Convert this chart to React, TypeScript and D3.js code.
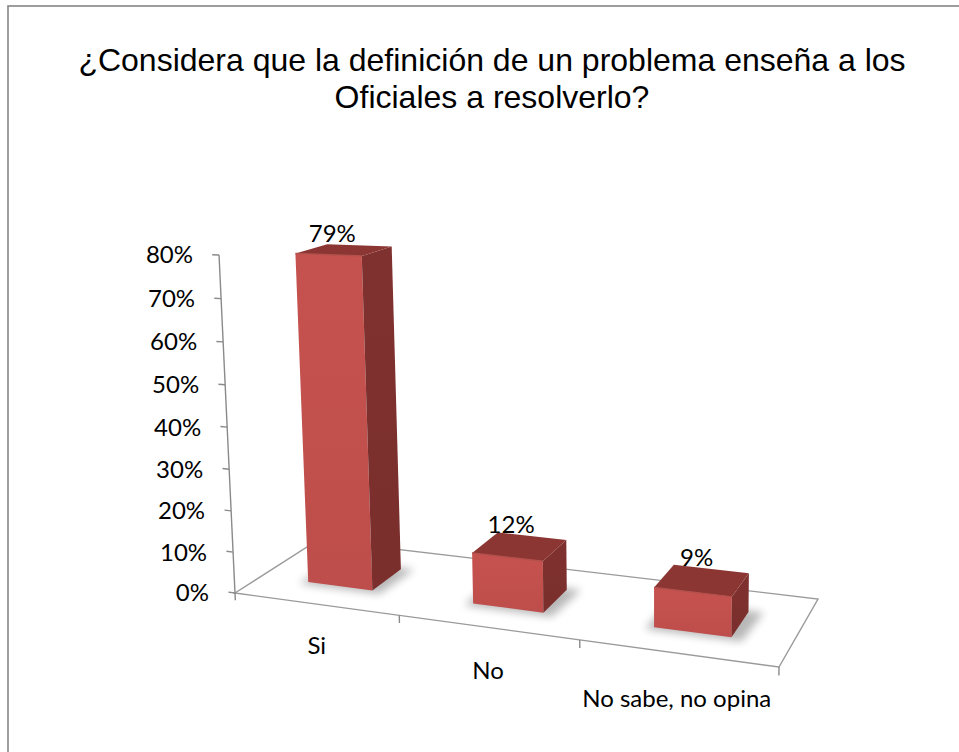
import React from "react";
import * as d3 from "d3";

// ---------- data ----------
const titleLines = ["¿Considera que la definición de un problema enseña a los", "Oficiales a resolverlo?"];
const categories = ["Si", "No", "No sabe, no opina"];
const values = [0.79, 0.12, 0.09];
const valueLabels = ["79%", "12%", "9%"];
const yTicks = [0, 0.1, 0.2, 0.3, 0.4, 0.5, 0.6, 0.7, 0.8];
const yMax = 0.8;

// ---------- layout (projection frame) ----------
const W = 959, H = 752;
const FL: [number, number] = [235, 593];
const FR: [number, number] = [779, 667];
const BR: [number, number] = [818, 599];
const BL: [number, number] = [318, 540];
const VANISH: [number, number] = [656, 9500];
const AXIS_TOP_Y = 255;
const DEPTH0 = 0.3, DEPTH1 = 0.68;

function squareToQuad(p0: number[], p1: number[], p2: number[], p3: number[]) {
  const [x0, y0] = p0, [x1, y1] = p1, [x2, y2] = p2, [x3, y3] = p3;
  const dx1 = x1 - x2, dx2 = x3 - x2, dx3 = x0 - x1 + x2 - x3;
  const dy1 = y1 - y2, dy2 = y3 - y2, dy3 = y0 - y1 + y2 - y3;
  const den = dx1 * dy2 - dx2 * dy1;
  const g = (dx3 * dy2 - dx2 * dy3) / den;
  const h = (dx1 * dy3 - dx3 * dy1) / den;
  return {
    a: x1 - x0 + g * x1, b: x3 - x0 + h * x3, c: x0,
    d: y1 - y0 + g * y1, e: y3 - y0 + h * y3, f: y0, g, h,
  };
}
const HM = squareToQuad(FL, FR, BR, BL);
const yScale = d3.scaleLinear().domain([0, yMax]).range([0, 1]);
const K = (AXIS_TOP_Y - FL[1]) / (yScale(yMax) * (VANISH[1] - AXIS_TOP_Y));

function project(u: number, v: number, w: number): [number, number] {
  const Y = yScale(v);
  const X = HM.a * u + HM.b * w + HM.c + K * VANISH[0] * Y;
  const Yh = HM.d * u + HM.e * w + HM.f + K * VANISH[1] * Y;
  const Wh = HM.g * u + HM.h * w + 1 + K * Y;
  return [X / Wh, Yh / Wh];
}
const poly = (pts: [number, number][]) => "M" + pts.map((p) => p.join(",")).join("L") + "Z";

const xBand = d3.scaleBand<string>().domain(categories).range([0, 1]).paddingInner(0.6).paddingOuter(0.3);
const xCat = d3.scaleBand<string>().domain(categories).range([0, 1]);

const labelFont = "Lato, 'Open Sans', sans-serif";

export default function App() {
  const floor = [project(0, 0, 0), project(1, 0, 0), project(1, 0, 1), project(0, 0, 1)];
  const axisBottom = project(0, 0, 0);
  const axisTop = project(0, yMax, 0);
  const catBounds = [0, ...categories.map((c) => (xCat(c) as number) + xCat.bandwidth())];

  return (
    <div style={{ position: "absolute", left: 0, top: 0, width: W, height: H, overflow: "hidden", background: "#fff" }}>
      <svg width={W} height={H} style={{ display: "block" }}>
        <defs>
          <filter id="shadow" x="-50%" y="-50%" width="200%" height="200%">
            <feGaussianBlur stdDeviation="4" />
          </filter>
          <linearGradient id="front" x1="0" y1="0" x2="0" y2="1">
            <stop offset="0" stopColor="#C6524F" />
            <stop offset="1" stopColor="#BE4E4B" />
          </linearGradient>
          <linearGradient id="side" x1="0" y1="0" x2="0" y2="1">
            <stop offset="0" stopColor="#7F312F" />
            <stop offset="1" stopColor="#7A2F2D" />
          </linearGradient>
        </defs>
        <rect x={0} y={0} width={W} height={H} fill="#fff" />
        <rect x={8} y={6} width={W + 20} height={H + 20} fill="none" stroke="#868686" strokeWidth={1.6} />

        {titleLines.map((t, i) => (
          <text key={t} x={492} y={71 + i * 37} textAnchor="middle" fontFamily="'Liberation Sans', Arial, sans-serif" fontSize={32} fill="#000">
            {t}
          </text>
        ))}

        {/* floor */}
        <path d={poly(floor as [number, number][])} fill="none" stroke="#9a9a9a" strokeWidth={1.4} />
        {catBounds.map((u, i) => {
          const a = project(u, 0, 0);
          const b = project(u, -0.018, 0);
          return <line key={"ct" + i} x1={a[0]} y1={a[1]} x2={b[0]} y2={b[1]} stroke="#8a8a8a" strokeWidth={1.4} />;
        })}

        {/* vertical axis */}
        <line x1={axisBottom[0]} y1={axisBottom[1]} x2={axisTop[0]} y2={axisTop[1]} stroke="#8a8a8a" strokeWidth={1.4} />
        {yTicks.map((t) => {
          const a = project(0, t, 0);
          const b = project(-0.014, t, 0);
          return (
            <g key={"yt" + t}>
              <line x1={a[0]} y1={a[1]} x2={b[0]} y2={b[1]} stroke="#8a8a8a" strokeWidth={1.4} />
              <text x={a[0] - 26} y={a[1]} dy="0.35em" textAnchor="end" fontFamily={labelFont} fontSize={24} fill="#000">
                {d3.format(".0%")(t)}
              </text>
            </g>
          );
        })}

        {/* bars */}
        {categories.map((c, i) => {
          const u0 = xBand(c) as number;
          const u1 = u0 + xBand.bandwidth();
          const v = values[i];
          const w0 = DEPTH0, w1 = DEPTH1;
          const shadowPts = [project(u0 - 0.012, 0, w0 - 0.04), project(u1 + 0.02, 0, w0 - 0.04), project(u1 + 0.025, 0, w1 + 0.02), project(u0 - 0.01, 0, w1 + 0.02)];
          const front = [project(u0, 0, w0), project(u1, 0, w0), project(u1, v, w0), project(u0, v, w0)];
          const side = [project(u1, 0, w0), project(u1, 0, w1), project(u1, v, w1), project(u1, v, w0)];
          const top = [project(u0, v, w0), project(u1, v, w0), project(u1, v, w1), project(u0, v, w1)];
          const uc = (u0 + u1) / 2;
          const lx = project(uc, v, w0)[0] + 4;
          const ly = project(uc, v, w1)[1] - 3;
          return (
            <g key={c}>
              <path d={poly(shadowPts)} fill="#000" opacity={0.28} filter="url(#shadow)" />
              <path d={poly(front)} fill="url(#front)" />
              <path d={poly(side)} fill="url(#side)" />
              <path d={poly(top)} fill="#8C3633" />
              <line x1={top[0][0]} y1={top[0][1]} x2={top[1][0]} y2={top[1][1]} stroke="#B4504C" strokeWidth={1.5} />
              <text x={lx} y={ly} textAnchor="middle" fontFamily={labelFont} fontSize={24} fill="#000">
                {valueLabels[i]}
              </text>
            </g>
          );
        })}

        {/* category labels */}
        {categories.map((c) => {
          const uc = (xCat(c) as number) + xCat.bandwidth() / 2;
          const p = project(uc, -0.1, 0);
          return (
            <text key={"cl" + c} x={p[0]} y={p[1]} dy="0.35em" textAnchor="middle" fontFamily={labelFont} fontSize={24} fill="#000">
              {c}
            </text>
          );
        })}
      </svg>
    </div>
  );
}
